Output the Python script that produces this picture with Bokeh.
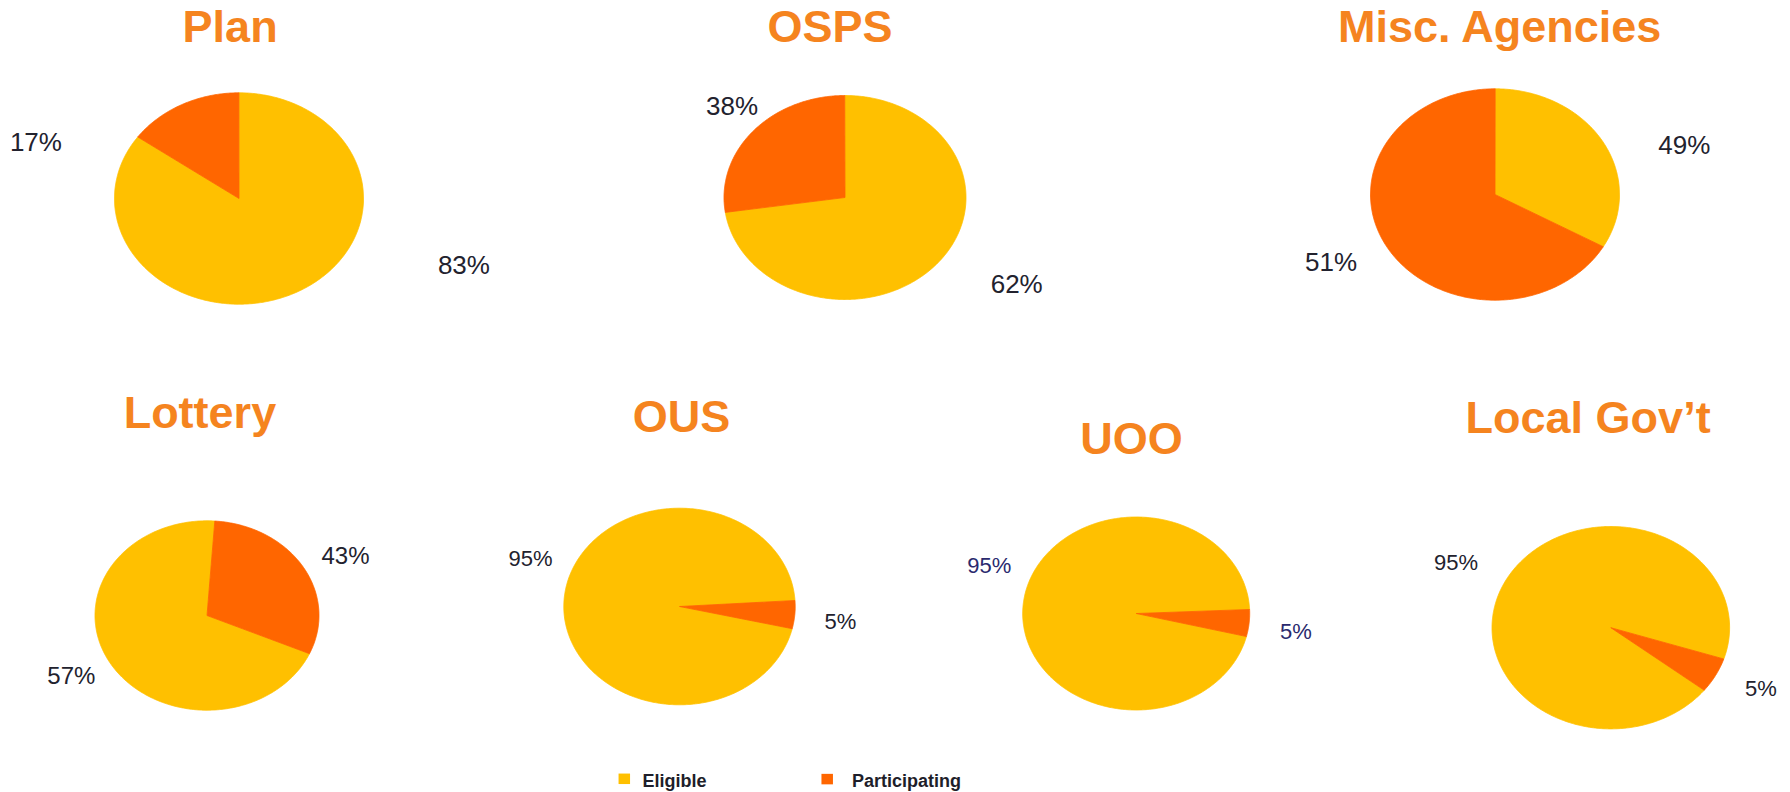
import numpy as np
from bokeh.plotting import figure
from bokeh.models import Range1d, ColumnDataSource
from bokeh.core.properties import value
from bokeh.embed import file_html
from bokeh.resources import INLINE

# ---------------- data ----------------
groups = ["Plan", "OSPS", "Misc. Agencies", "Lottery", "OUS", "UOO", "Local Gov\u2019t"]
eligible_pct = [83, 62, 49, 57, 95, 95, 95]
participating_pct = [17, 38, 51, 43, 5, 5, 5]
# size of the "Participating" slice as it is drawn in the picture (% of the full circle)
participating_drawn = [15.1, 27.3, 66.8, 30.5, 4.6, 4.5, 5.6]
series = ["Eligible", "Participating"]

# ---------------- layout / style (reference pixel coordinates) ----------------
YELLOW = "#FFC000"
ORANGE = "#FF6600"
TITLE_C = "#F5841F"
LABEL_C = "#22222E"
FONT = "Liberation Sans"
BASE_SHIFT = 0.36   # the rendered baseline sits this many em below the anchor

cx = [238.5, 844.5, 1494.5, 206.5, 679.0, 1135.7, 1610.3]
cy = [198.0, 197.0, 194.0, 615.0, 606.0, 613.0, 627.2]
rx = [124.5, 121.0, 124.5, 112.0, 115.7, 113.5, 118.8]
ry = [105.7, 102.0, 105.7, 94.7, 98.3, 96.5, 101.2]
part_start = [305.6, 261.6, 119.6, 4.0, 86.5, 87.6, 108.0]   # degrees clockwise from 12 o'clock

TITLE_PX = 45
title_x = [229.6, 829.6, 1500.0, 199.4, 681.0, 1131.0, 1587.6]
title_base = [42.0, 42.5, 42.5, 428.5, 432.5, 454.0, 433.3]

# label positions: centre x / baseline y
elig_lx = [463.4, 1016.2, 1683.8, 70.8, 530.0, 988.8, 1455.5]
elig_ly = [274.0, 293.3, 154.0, 684.0, 566.0, 572.7, 570.0]
part_lx = [35.4, 731.5, 1330.5, 345.0, 840.0, 1295.3, 1760.5]
part_ly = [150.7, 115.0, 270.7, 563.3, 629.3, 638.5, 696.3]
label_px = [26, 26, 26, 24, 22, 22, 22]
label_col = [LABEL_C, LABEL_C, LABEL_C, LABEL_C, LABEL_C, "#2A2A6E", LABEL_C]

p = figure(width=1790, height=792, output_backend="svg", toolbar_location=None,
           x_range=Range1d(0, 1790), y_range=Range1d(792, 0),
           min_border=0, outline_line_color=None, background_fill_color="white",
           border_fill_color="white")
p.axis.visible = False
p.grid.visible = False

# ---------------- pie slices ----------------
xs, ys, fills = [], [], []
for i in range(len(groups)):
    share = participating_drawn[i] / 100.0
    a0 = np.radians(part_start[i])
    a1 = a0 + 2 * np.pi * share
    a2 = a0 + 2 * np.pi
    for s, e, col in [(a1, a2, YELLOW), (a0, a1, ORANGE)]:
        n = max(int((e - s) / 0.01), 10)
        t = np.linspace(s, e, n)
        xs.append(list(np.concatenate([[cx[i]], cx[i] + rx[i] * np.sin(t)])))
        ys.append(list(np.concatenate([[cy[i]], cy[i] - ry[i] * np.cos(t)])))
        fills.append(col)

p.patches(xs="xs", ys="ys", fill_color="fills", line_color="fills", line_width=0.8,
          source=ColumnDataSource(dict(xs=xs, ys=ys, fills=fills)))

# ---------------- titles ----------------
p.text(x=title_x, y=[b - BASE_SHIFT * TITLE_PX for b in title_base], text=groups,
       text_align="center", text_baseline="alphabetic",
       text_font=value(FONT), text_font_style="bold", text_font_size=f"{TITLE_PX}px",
       text_color=TITLE_C)

# ---------------- percentage labels ----------------
sizes = label_px + label_px
lab_src = ColumnDataSource(dict(
    x=elig_lx + part_lx,
    y=[b - BASE_SHIFT * s for b, s in zip(elig_ly + part_ly, sizes)],
    t=[f"{v}%" for v in eligible_pct] + [f"{v}%" for v in participating_pct],
    s=[f"{s}px" for s in sizes],
    c=label_col + label_col,
))
p.text(x="x", y="y", text="t", text_font_size="s", text_color="c", source=lab_src,
       text_align="center", text_baseline="alphabetic", text_font=value(FONT))

# ---------------- legend ----------------
LEG_PX = 18
leg_sq_x = [623.8, 826.7]
leg_sq_y = [778.3, 778.6]
leg_tx = [674.0, 906.0]
leg_base = [786.5, 786.5]
p.rect(x=leg_sq_x, y=leg_sq_y, width=11.5, height=10.5, fill_color=[YELLOW, ORANGE], line_color=None)
p.text(x=leg_tx, y=[b - BASE_SHIFT * LEG_PX for b in leg_base], text=series,
       text_align="center", text_baseline="alphabetic",
       text_font=value(FONT), text_font_style="bold", text_font_size=f"{LEG_PX}px",
       text_color="#1E1E2A")

open("out.html", "w").write(file_html(p, INLINE))
